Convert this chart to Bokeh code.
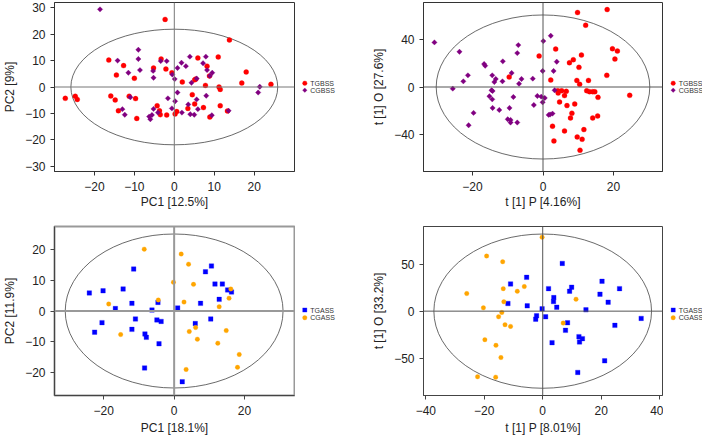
import math
from bokeh.plotting import figure
from bokeh.models import Range1d, Span, FixedTicker
from bokeh.layouts import row, column
from bokeh.core.properties import value
from bokeh.embed import file_html
from bokeh.resources import INLINE

# ---------------- data ----------------
# Panel A: PCA, TGBSS vs CGBSS
tgbss_pc1 = [-2.3, -16.4, -12.7, -14.5, -10.0, -5.2, -3.3, -2.1, -0.6, 2.0, -27.3, -24.8, -24.3, -15.9,
             -14.8, -14.0, -11.3, -9.7, -9.4, -4.3, -3.7, -3.5, -1.9, 0.2, 0.6, 13.8, 5.9, 11.0, 8.2, 8.8,
             5.1, 5.4, 7.8, 11.2, 11.5, 16.9, 18.0, 24.2, 4.5, 5.1, 7.3, 3.4, 11.5, 8.9, 13.3]
tgbss_pc2 = [25.6, 10.2, 8.1, 4.5, 3.3, 7.2, 10.6, 6.8, 5.4, 1.9, -4.3, -3.5, -4.7, -3.4,
             -4.9, -9.0, -3.5, -4.4, -11.9, -7.1, -9.0, -10.5, -10.6, -10.2, -9.3, 17.8, 11.0, 11.4, 7.9, 4.2,
             2.7, 3.0, 0.6, 0.0, -0.9, 1.5, 5.7, 1.0, -2.9, -6.4, -7.8, -8.1, -7.1, -11.4, -9.1]
cgbss_pc1 = [-18.6, -9.0, -9.0, -14.2, -8.6, -11.5, -5.3, -5.2, -3.4, -1.9, -0.5, 0.1, 1.8, -11.0,
             -13.0, -12.4, -5.2, -5.6, -6.3, -6.0, -4.1, -1.6, -0.6, 0.2, 0.8, 1.9, 3.9, 7.9, 2.9, 0.8,
             7.2, 8.2, 9.5, 8.9, 5.6, 4.3, 21.4, 21.0, 8.0, 5.6, 3.5, 4.0, 5.0, 5.9, 9.4, 13.6]
cgbss_pc2 = [29.4, 14.1, 10.6, 10.0, 6.4, 5.4, 6.1, 3.5, 9.8, 9.8, 4.7, 3.0, 9.2, -3.9,
             -8.4, -10.5, -8.3, -10.6, -11.2, -12.2, -9.7, -4.3, -8.1, -5.4, -2.1, -9.7, 11.5, 11.5, 7.9, 7.2,
             9.0, 6.4, 5.4, 4.2, 3.2, 1.6, 0.1, -2.1, -3.3, -4.7, -6.6, -10.3, -10.5, -8.4, -10.7, -9.0]

# Panel B: OPLS-DA, TGBSS vs CGBSS
tgbss_p = [-9.6, 9.8, 18.2, 12.1, 3.6, -1.1, 19.7, 21.1, 20.4, 10.9, 8.6, 7.5, 10.2, 2.2, 9.6, 10.4,
           12.9, 18.1, 4.2, 5.3, 6.6, 4.3, 6.1, 12.4, 13.2, 14.1, 14.7, 15.6, 24.6, 4.7, 6.8, 9.0,
           8.2, 7.8, 14.1, 15.5, 2.7, 6.1, 11.6, 9.7, 11.1, 3.1, 10.5]
tgbss_o = [8.5, 63.3, 65.8, 52.5, 32.2, 26.3, 32.5, 30.5, 23.7, 27.1, 23.2, 20.6, 16.7, 5.9, 5.6, 2.3,
           5.6, 9.9, -3.1, -3.1, -3.7, -5.1, -7.3, -3.1, -4.0, -4.0, -4.0, -8.8, -7.1, -12.7, -15.8, -14.4,
           -22.3, -26.3, -26.3, -24.6, -33.3, -37.3, -36.2, -42.4, -44.4, -45.8, -53.7]
cgbss_p = [-30.8, -23.7, -21.3, -22.6, -25.6, -16.7, -16.4, -11.4, -7.0, -7.3, -8.9, -14.4, -13.4,
           -13.8, -11.5, -6.1, -6.8, -2.9, -14.6, -14.3, -15.2, -14.4, -8.4, -2.6, -14.3, -12.4, -9.5,
           -19.7, -21.1, -10.0, -9.2, -9.2, -7.3, 2.2, 0.1, 3.9, -0.1, 3.0, 3.3, -1.6, -0.5, 0.5,
           -0.1, 1.6, 2.0, 2.7]
cgbss_o = [37.9, 29.9, 9.9, 4.8, -1.4, 19.5, 18.1, 21.8, 35.6, 28.8, 11.9, 9.9, 6.8,
           4.2, 4.8, 6.8, 2.8, 7.1, -2.8, -3.4, -7.9, -10.5, -8.5, -15.3, -17.8, -19.5, -17.8,
           -22.0, -32.5, -27.4, -28.0, -30.2, -30.2, 43.5, 39.0, 21.5, 13.6, 13.6, -2.8, -7.6, -8.2, -9.3,
           -13.0, -23.7, -23.4, -22.6]

# Panel C: PCA, TGASS vs CGASS
tgass_pc1 = [-11.5, -24.1, -20.2, -14.5, -16.7, -12.0, -6.3, -4.6, 1.0, -22.6, -20.5, -11.0, -12.0,
             -4.9, -3.7, -8.3, -7.9, -4.3, -8.4, 2.3, 10.6, 8.9, 11.6, 13.7, 15.2, 16.3, 12.8, 7.5,
             10.4, 6.0]
tgass_pc2 = [13.7, 5.9, 6.6, 7.2, 0.8, 2.5, 0.3, 2.8, 1.0, -6.9, -3.8, -2.6, -6.0,
             -2.9, -3.4, -7.5, -8.6, -10.7, -18.6, -23.1, 14.7, 12.8, 8.8, 8.8, 6.9, 6.2, 3.8, 2.5,
             -2.6, -4.1]
cgass_pc1 = [-8.5, 2.0, -0.2, -18.6, -4.5, -15.2, 2.8, 4.1, 5.5, 16.1, 15.6, 12.8, 6.1, 4.3, 6.6,
             14.8, 12.4, 18.5, 18.0, 3.4]
cgass_pc2 = [20.2, 18.6, 9.4, 2.3, 3.6, -7.7, 2.9, 15.3, 8.7, 7.2, 4.2, 1.4, -5.4, -6.7, -9.2,
             -6.4, -10.5, -14.2, -18.4, -19.1]

# Panel D: OPLS-DA, TGASS vs CGASS
tgass_p = [-11.0, -5.5, -11.9, -5.3, -2.4, -2.1, 6.7, 2.0, 9.9, 9.2, 20.3, 19.6, 26.3, 22.4, 3.8, 3.7,
           4.8, -0.2, 1.0, 14.8, 33.7, 8.5, 7.8, 24.7, 12.4, 13.6, 12.6, 3.2, 21.2, 12.0]
tgass_o = [28.9, 35.9, 8.1, 5.6, -8.5, -4.9, 50.7, 23.9, 25.4, 21.1, 31.7, 18.0, 23.9, 9.5, 14.4, 10.2,
           4.2, 2.5, -6.0, 1.4, -7.7, -12.3, -20.4, -15.1, -27.1, -29.2, -32.7, -33.5, -52.8, -65.1]
cgass_p = [-19.2, -13.7, -26.0, -13.5, -8.7, -6.3, -13.3, -20.3, -14.0, -15.1, -12.9, -11.0, -19.8,
           -16.0, -14.3, -22.3, -16.1, -0.2, 11.4, 7.0]
cgass_o = [58.5, 52.5, 18.7, 23.9, 21.1, 26.1, 9.9, 3.5, -1.4, -6.0, -14.4, -16.2, -30.3,
           -36.3, -49.3, -69.7, -70.1, 78.5, 12.7, -12.7]

# Hotelling ellipse semi-axes (x, y) per panel
ellipse_a = [25.9, 30.3, 30.95, 37.25]
ellipse_b = [21.9, 61.2, 25.15, 81.9]

# axis ranges and ticks
x_ranges = [(-30.0, 30.1), (-33.9, 33.9), (-34.0, 34.2), (-40.8, 41.0)]
y_ranges = [(-32.0, 32.0), (-71.8, 71.8), (-27.6, 27.6), (-89.6, 89.9)]
x_ticks = [[-20, -10, 0, 10, 20], [-20, 0, 20], [-20, 0, 20], [-40, -20, 0, 20, 40]]
y_ticks = [[-30, -20, -10, 0, 10, 20, 30], [-40, 0, 40], [-20, -10, 0, 10, 20], [-50, 0, 50]]
x_titles = ["PC1 [12.5%]", "t [1] P [4.16%]", "PC1 [18.1%]", "t [1] P [8.01%]"]
y_titles = ["PC2 [9%]", "t [1] O [27.6%]", "PC2 [11.9%]", "t [1] O [33.2%]"]
legend_labels = [["TGBSS", "CGBSS"], ["TGBSS", "CGBSS"], ["TGASS", "CGASS"], ["TGASS", "CGASS"]]

FONT = "Liberation Sans"
TXT = "#222222"


def fmt(v):
    return ("%g" % v).replace("-", "\u2212")


def marker_kw(marker):
    # R's pch 18 (filled diamond) = square rotated by 45 degrees
    if marker == "diamond":
        return dict(marker="square", angle=math.pi / 4)
    return dict(marker=marker)


def make_panel(i, series, top, bottom, fw, fh, box_col, box_w, axis_col,
               zero_col, zero_w, xstand):
    p = figure(width=46 + fw + 1, height=top + fh + bottom,
               min_border_left=46, min_border_right=1,
               min_border_top=top, min_border_bottom=bottom,
               x_range=Range1d(*x_ranges[i]), y_range=Range1d(*y_ranges[i]),
               output_backend="svg", toolbar_location=None)
    p.grid.visible = False
    p.outline_line_color = box_col
    p.outline_line_width = box_w
    p.outline_line_alpha = 1.0
    p.background_fill_color = "white"
    p.border_fill_color = "white"

    for ax, ticks, title in ((p.xaxis[0], x_ticks[i], x_titles[i]),
                             (p.yaxis[0], y_ticks[i], y_titles[i])):
        ax.ticker = FixedTicker(ticks=ticks)
        ax.major_label_overrides = {t: fmt(t) for t in ticks}
        ax.minor_tick_line_color = None
        ax.major_tick_in = 0
        ax.major_tick_out = 4
        ax.major_tick_line_color = axis_col
        ax.axis_line_color = axis_col
        ax.major_label_text_font = FONT
        ax.major_label_text_font_size = "12px"
        ax.major_label_text_color = TXT
        ax.axis_label = title
        ax.axis_label_text_font = FONT
        ax.axis_label_text_font_size = "12px"
        ax.axis_label_text_font_style = "normal"
        ax.axis_label_text_color = TXT
    p.xaxis[0].major_label_standoff = 6
    p.yaxis[0].major_label_standoff = 5
    p.xaxis[0].axis_label_standoff = xstand
    p.yaxis[0].axis_label_standoff = 5

    p.add_layout(Span(location=0, dimension="width", line_color=zero_col, line_width=zero_w))
    p.add_layout(Span(location=0, dimension="height", line_color=zero_col, line_width=zero_w))

    p.ellipse(x=[0], y=[0], width=[2 * ellipse_a[i]], height=[2 * ellipse_b[i]],
              fill_color=None, line_color="#444444", line_width=0.8)

    for xs, ys, marker, size, color in series:
        p.scatter(xs, ys, size=size, fill_color=color, line_color=color,
                  line_width=0.3, **marker_kw(marker))
    return p


def make_legend(i, series, w, h, x0, y0, dy):
    # small companion figure holding the legend (pixel coordinates, y downwards)
    lg = figure(frame_width=w, frame_height=h, min_border_left=0, min_border_right=0,
                min_border_top=0, min_border_bottom=0, title=None,
                x_axis_location=None, y_axis_location=None,
                x_range=Range1d(0, w), y_range=Range1d(h, 0),
                output_backend="svg", toolbar_location=None)
    lg.grid.visible = False
    lg.outline_line_color = None
    lg.background_fill_color = "white"
    lg.border_fill_color = "white"
    for k, ((xs, ys, marker, size, color), lab) in enumerate(zip(series, legend_labels[i])):
        lsize = {"circle": 4.5, "square": 4.2, "diamond": 3.2}[marker]
        lg.scatter([x0], [y0 + k * dy], size=lsize,
                   fill_color=color, line_color=color, line_width=0.3, **marker_kw(marker))
        lg.text([x0 + 5.5], [y0 + k * dy], text=[lab], text_font=value(FONT),
                text_font_size="7px", text_baseline="middle", text_align="left",
                text_color="#333333")
    return lg


RED, PURPLE, BLUE, ORANGE = "#FF0000", "#800080", "#0000FF", "#FFA500"

sA = [(tgbss_pc1, tgbss_pc2, "circle", 5, RED), (cgbss_pc1, cgbss_pc2, "diamond", 3.8, PURPLE)]
sB = [(tgbss_p, tgbss_o, "circle", 5, RED), (cgbss_p, cgbss_o, "diamond", 3.8, PURPLE)]
sC = [(tgass_pc1, tgass_pc2, "square", 4.5, BLUE), (cgass_pc1, cgass_pc2, "circle", 4.5, ORANGE)]
sD = [(tgass_p, tgass_o, "square", 4.5, BLUE), (cgass_p, cgass_o, "circle", 4.5, ORANGE)]

pA = make_panel(0, sA, 2, 51, 248, 169, "#333333", 1, "#333333", "#777777", 1, 1)
pB = make_panel(1, sB, 2, 51, 247, 169, "#333333", 1, "#333333", "#555555", 1, 1)
pC = make_panel(2, sC, 4, 41, 248, 170, "#999999", 2, "#444444", "#999999", 2, 3)
pD = make_panel(3, sD, 4, 41, 247, 170, "#444444", 1, "#444444", "#555555", 1, 3)

lA = make_legend(0, sA, 74, 222, 9.3, 80.7, 7.0)
lB = make_legend(1, sB, 39, 222, 9.7, 80.7, 7.0)
lC = make_legend(2, sC, 74, 215, 9.3, 83.5, 7.7)
lD = make_legend(3, sD, 39, 215, 9.7, 83.5, 7.7)

layout = column(row(pA, lA, pB, lB), row(pC, lC, pD, lD))

open("out.html", "w").write(file_html(layout, INLINE))
